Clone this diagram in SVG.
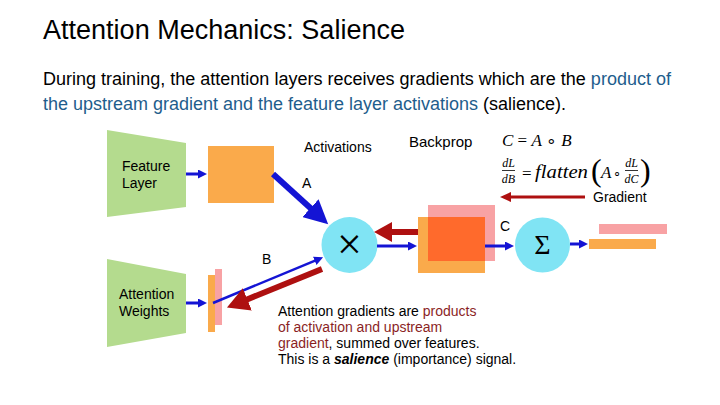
<svg xmlns="http://www.w3.org/2000/svg" width="720" height="405" viewBox="0 0 720 405">
<defs>
<style>
.t{font-family:"Liberation Sans",Arial,sans-serif;fill:#000}
.lbl{font-family:"Liberation Sans",Arial,sans-serif;font-size:14px;fill:#000}
.m{font-family:"Liberation Serif","Times New Roman",serif;fill:#000}
.i{font-style:italic}
.green{fill:#B4DB8E}
.orange{fill:#FAAA4B}
.pink{fill:#F8A2A4}
.overlap{fill:#FF6A2C}
.cyan{fill:#80E4F4}
.blue{stroke:#1414D4;fill:none}
.red{stroke:#AE1010;fill:none}
.blueTxt{fill:#1E5D8C}
.redTxt{fill:#8B1F1F}
</style>
<marker id="hbS" markerUnits="userSpaceOnUse" markerWidth="10" markerHeight="9" refX="1" refY="4.5" orient="auto"><path d="M0,0 L9,4.5 L0,9 Z" fill="#1414D4"/></marker>
<marker id="hbB" markerUnits="userSpaceOnUse" markerWidth="25" markerHeight="24" refX="1" refY="12" orient="auto"><path d="M0,0 L24,12 L0,24 Z" fill="#1414D4"/></marker>
<marker id="hrB" markerUnits="userSpaceOnUse" markerWidth="23" markerHeight="24" refX="1" refY="12" orient="auto"><path d="M0,0 L22,12 L0,24 Z" fill="#AE1010"/></marker>
<marker id="hrM" markerUnits="userSpaceOnUse" markerWidth="19" markerHeight="20" refX="1" refY="10" orient="auto"><path d="M0,0 L18,10 L0,20 Z" fill="#AE1010"/></marker>
<marker id="hrS" markerUnits="userSpaceOnUse" markerWidth="12" markerHeight="10" refX="1" refY="5" orient="auto"><path d="M0,0 L11,5 L0,10 Z" fill="#AE1010"/></marker>
</defs>
<rect width="720" height="405" fill="#fff"/>

<g id="title">
<text class="t" x="43" y="39" font-size="27" textLength="362" lengthAdjust="spacingAndGlyphs">Attention Mechanics: Salience</text>
</g>
<g id="subtitle">
<text class="t" x="43" y="85" font-size="17.5" textLength="628" lengthAdjust="spacingAndGlyphs">During training, the attention layers receives gradients which are the <tspan class="blueTxt">product of</tspan></text>
<text class="t" x="43" y="110" font-size="17.5" textLength="523" lengthAdjust="spacingAndGlyphs"><tspan class="blueTxt">the upstream gradient and the feature layer activations</tspan> (salience).</text>
</g>

<g id="feature-layer">
<polygon class="green" points="107,130 186,143 186,207 107,217"/>
<text class="lbl" x="122" y="171">Feature</text>
<text class="lbl" x="122" y="188">Layer</text>
</g>
<g id="activations">
<rect class="orange" x="208" y="146" width="66" height="57"/>
<text class="lbl" x="304" y="152">Activations</text>
<text class="lbl" x="302" y="188">A</text>
</g>
<g id="attention-weights">
<polygon class="green" points="107,259 186,274 186,333 107,347"/>
<text class="lbl" x="119" y="299">Attention</text>
<text class="lbl" x="119" y="316">Weights</text>
</g>
<g id="weight-bars">
<rect class="pink" x="215" y="269" width="7" height="56"/>
<rect class="orange" x="208" y="275" width="7" height="57"/>
<text class="lbl" x="262" y="264">B</text>
</g>
<g id="multiply">
<circle class="cyan" cx="349.5" cy="245" r="28"/>
<text class="m" x="349.5" y="259" font-size="44" text-anchor="middle">×</text>
</g>
<g id="product-C">
<rect class="orange" x="418" y="217" width="67" height="56"/>
<rect class="pink" x="428" y="205" width="67" height="56"/>
<rect class="overlap" x="428" y="217" width="57" height="44"/>
<text class="lbl" x="500" y="231">C</text>
</g>
<g id="sum">
<circle class="cyan" cx="542.5" cy="245" r="27.5"/>
<text class="m" x="542.5" y="254" font-size="28" text-anchor="middle">Σ</text>
</g>
<g id="output-bars">
<rect class="pink" x="599" y="224" width="68" height="10"/>
<rect class="orange" x="589" y="239" width="67" height="10"/>
</g>
<g id="backprop">
<text class="t" x="409" y="147" font-size="15">Backprop</text>
<text class="m" x="502" y="146" font-size="17"><tspan class="i">C</tspan> = <tspan class="i">A</tspan> ∘ <tspan class="i">B</tspan></text>
<text class="m i" x="508.5" y="167" font-size="12" text-anchor="middle">dL</text>
<line x1="502" y1="170.5" x2="515" y2="170.5" stroke="#000" stroke-width="0.8"/>
<text class="m i" x="508.5" y="183" font-size="12" text-anchor="middle">dB</text>
<text class="m" x="522" y="179" font-size="17">=</text>
<text class="m i" x="535" y="178" font-size="18" textLength="53" lengthAdjust="spacingAndGlyphs">flatten</text>
<text class="m" x="591" y="181" font-size="32">(</text>
<text class="m i" x="601" y="178" font-size="17">A</text>
<text class="m" x="613" y="177" font-size="13">∘</text>
<text class="m i" x="631.5" y="167" font-size="12" text-anchor="middle">dL</text>
<line x1="625" y1="170.5" x2="638" y2="170.5" stroke="#000" stroke-width="0.8"/>
<text class="m i" x="631.5" y="183" font-size="12" text-anchor="middle">dC</text>
<text class="m" x="640" y="181" font-size="32">)</text>
<text class="lbl" x="593" y="202">Gradient</text>
</g>
<g id="caption">
<text class="lbl" x="278" y="316">Attention gradients are <tspan class="redTxt">products</tspan></text>
<text class="lbl redTxt" x="278" y="332">of activation and upstream</text>
<text class="lbl" x="278" y="348"><tspan class="redTxt">gradient</tspan>, summed over features.</text>
<text class="lbl" x="278" y="364">This is a <tspan font-weight="bold" font-style="italic">salience</tspan> (importance) signal.</text>
</g>

<g id="connectors">
<line class="blue" x1="186" y1="174" x2="199" y2="174" stroke-width="3" marker-end="url(#hbS)"/>
<line class="blue" x1="186" y1="303" x2="199" y2="303" stroke-width="3" marker-end="url(#hbS)"/>
<line class="blue" x1="273" y1="174" x2="311.2" y2="208.8" stroke-width="6" marker-end="url(#hbB)"/>
<line class="blue" x1="213" y1="303" x2="315.7" y2="260.4" stroke-width="2.5" marker-end="url(#hbS)"/>
<line class="red" x1="322" y1="269" x2="246.4" y2="299.7" stroke-width="6" marker-end="url(#hrB)"/>
<line class="red" x1="418" y1="232" x2="391" y2="232" stroke-width="6" marker-end="url(#hrM)"/>
<line class="blue" x1="377" y1="246" x2="409" y2="246" stroke-width="3" marker-end="url(#hbS)"/>
<line class="blue" x1="485" y1="246" x2="506" y2="246" stroke-width="3" marker-end="url(#hbS)"/>
<line class="blue" x1="570" y1="244" x2="580" y2="244" stroke-width="3" marker-end="url(#hbS)"/>
<line class="red" x1="585" y1="197" x2="510" y2="197" stroke-width="3" marker-end="url(#hrS)"/>
</g>
</svg>
